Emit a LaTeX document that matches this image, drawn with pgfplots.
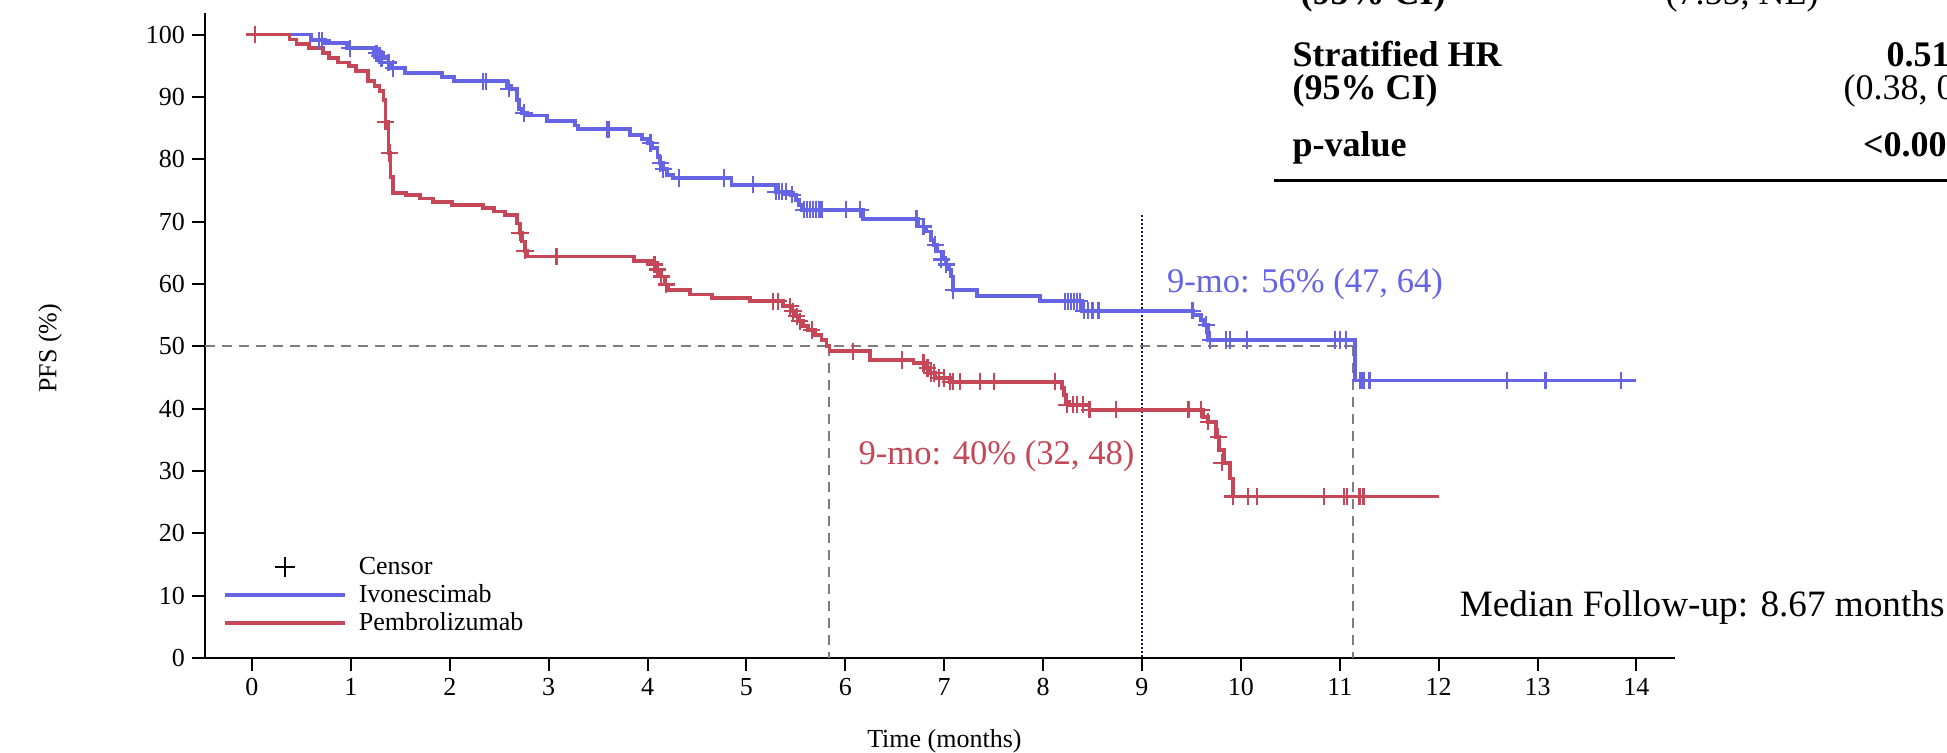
\documentclass[border=0pt]{standalone}
\usepackage{fontspec}
\setmainfont{Liberation Serif}
\usepackage{pgfplots}
\pgfplotsset{compat=1.18}

\definecolor{ivo}{RGB}{100,100,228}
\definecolor{pem}{RGB}{198,72,88}
\definecolor{refgray}{RGB}{125,125,125}
\definecolor{navyref}{RGB}{25,25,105}
\newcommand\smallfont{\fontsize{13}{15}\selectfont}
\newcommand\bigfont{\fontsize{18}{20}\selectfont}
\newcommand\annfont{\fontsize{17.3}{20}\selectfont}
\newcommand\medfont{\fontsize{18.6}{21}\selectfont}

\begin{document}
\begin{tikzpicture}
\clip (-102.5pt,-47.5pt) rectangle (871pt,329pt);
\begin{axis}[
  at={(0pt,0pt)}, anchor=south west,
  width=735pt, height=322.65pt, scale only axis,
  xmin=-0.475, xmax=14.39, ymin=0, ymax=103.5,
  axis x line=bottom, axis y line=left,
  axis line style={-, line width=1.3pt, black},
  xtick={0,...,14}, ytick={0,10,...,100},
  tick align=outside, major tick length=6.5pt,
  tick style={line width=1pt, black},
  tick label style={font=\smallfont},
  /pgf/number format/assume math mode=true,
  label style={font=\smallfont},
  xlabel={Time (months)}, ylabel={PFS (\%)},
  xlabel style={at={(axis description cs:0.503,-0.1286)}, anchor=center},
  ylabel style={at={(axis description cs:-0.1054,0.48)}, anchor=center},
  clip=false,
  legend image code/.code={\draw[mark repeat=2,mark phase=2,#1]
    plot coordinates {(0pt,0pt)(30pt,0pt)(60pt,0pt)};},
  legend style={at={(0.012,0.16)}, anchor=north west, draw=none, fill=none,
    inner sep=0pt, font=\smallfont, row sep=1.5pt, nodes={inner sep=1pt},
    cells={anchor=west}, /tikz/every odd column/.append style={column sep=5pt}},
]
% reference lines
\addplot[refgray, line width=1pt, dash pattern=on 5pt off 3.5pt, forget plot]
  coordinates {(-0.475,50)(11.13,50)};
\addplot[refgray, line width=1pt, dash pattern=on 5pt off 3.5pt, forget plot]
  coordinates {(5.83,50)(5.83,0)};
\addplot[refgray, line width=1pt, dash pattern=on 5pt off 3.5pt, forget plot]
  coordinates {(11.13,50)(11.13,0)};
\addplot[navyref, line width=1pt, densely dotted, forget plot]
  coordinates {(9,71)(9,0)};

% Ivonescimab
\addplot[const plot, ivo, line width=1.9pt, forget plot] coordinates {
  (0,100)(0.60,99.1)(0.74,98.7)(0.96,97.8)(1.23,97.0)(1.33,96.2)(1.38,95.5)
  (1.42,94.6)(1.55,93.8)(1.92,93.2)(2.04,92.5)(2.58,91.7)(2.62,91.3)(2.68,89.5)
  (2.70,88.0)(2.73,87.4)(2.78,87.0)(2.98,86.1)(3.27,85.4)(3.30,84.8)(3.82,83.9)
  (3.94,83.2)(4.00,82.6)(4.05,81.8)(4.10,80.4)(4.13,79.4)(4.16,78.4)(4.20,77.5)
  (4.26,77.0)(4.85,75.9)(5.30,74.8)(5.45,74.3)(5.50,73.5)(5.53,72.7)(5.56,71.9)
  (6.18,70.4)(6.74,69.2)(6.82,68.4)(6.87,67.1)(6.90,66.3)(6.93,65.2)(6.99,63.9)
  (7.02,63.1)(7.05,62.3)(7.07,61.2)(7.09,59.0)(7.33,58.1)(7.97,57.2)(8.39,55.7)
  (9.52,55.0)(9.60,54.2)(9.63,53.4)(9.67,51.0)(11.15,44.5)(14.0,44.5)};
\addplot[only marks, mark=+, mark size=4.3pt, ivo, mark options={line width=1.1pt}, forget plot]
  coordinates {
  (0.68,99.1)(0.71,99.1)(0.99,97.8)(1.26,97.0)(1.29,96.6)(1.31,96.2)(1.38,95.5)
  (1.43,94.6)(2.34,92.5)(2.37,92.5)(2.60,91.3)(2.75,87.4)(3.59,84.8)(3.61,84.8)
  (4.03,82.6)(4.13,79.4)(4.16,78.4)(4.32,77.0)(4.77,77.0)(5.07,75.9)(5.30,74.8)
  (5.33,74.8)(5.36,74.8)(5.40,74.8)(5.46,74.3)(5.58,71.9)(5.61,71.9)(5.64,71.9)
  (5.67,71.9)(5.70,71.9)(5.73,71.9)(5.76,71.9)(6.01,71.9)(6.15,71.9)(6.72,70.4)
  (6.79,69.2)(6.91,66.3)(6.97,63.9)(7.02,63.1)(7.09,59.0)(8.22,57.2)(8.25,57.2)
  (8.28,57.2)(8.31,57.2)(8.34,57.2)(8.37,57.2)(8.41,55.7)(8.45,55.7)(8.50,55.7)
  (8.56,55.7)(9.51,55.7)(9.65,53.4)(9.69,51.0)(9.85,51.0)(9.89,51.0)(10.06,51.0)
  (10.95,51.0)(11.00,51.0)(11.06,51.0)(11.21,44.5)(11.24,44.5)(11.30,44.5)
  (12.69,44.5)(13.08,44.5)(13.84,44.5)};

% Pembrolizumab
\addplot[const plot, pem, line width=1.9pt, forget plot] coordinates {
  (0,100)(0.38,99.2)(0.45,98.5)(0.58,97.8)(0.72,97.0)(0.78,96.2)(0.87,95.5)
  (0.98,94.9)(1.05,94.1)(1.17,92.5)(1.24,91.7)(1.29,90.9)(1.33,89.5)(1.35,86.0)
  (1.38,81.0)(1.40,77.2)(1.43,74.6)(1.56,74.2)(1.70,73.7)(1.83,73.1)(2.02,72.6)
  (2.34,72.2)(2.45,71.6)(2.56,71.1)(2.68,69.7)(2.71,68.2)(2.73,66.8)(2.76,65.3)
  (2.78,64.4)(3.86,63.7)(4.04,63.1)(4.09,62.3)(4.14,61.2)(4.18,59.9)(4.21,59.0)
  (4.43,58.3)(4.65,57.7)(5.04,57.2)(5.37,56.4)(5.46,55.6)(5.49,54.8)(5.52,54.0)
  (5.57,53.2)(5.62,52.6)(5.69,51.8)(5.76,51.0)(5.81,50.0)(5.84,49.2)(6.25,47.8)
  (6.69,47.3)(6.82,46.5)(6.86,45.7)(6.91,44.9)(7.06,44.3)(8.19,43.3)(8.21,42.2)
  (8.23,41.0)(8.26,40.6)(8.47,39.8)(9.62,38.7)(9.67,37.9)(9.75,35.5)(9.78,33.4)
  (9.83,31.3)(9.89,28.8)(9.92,25.9)(12.0,25.9)};
\addplot[only marks, mark=+, mark size=4.3pt, pem, mark options={line width=1.1pt}, forget plot]
  coordinates {
  (0.03,100)(1.35,86.0)(1.39,81.0)(2.71,68.2)(2.76,65.3)(3.08,64.4)(4.07,63.1)
  (4.10,62.3)(4.14,61.2)(4.19,59.9)(5.27,57.2)(5.32,57.2)(5.44,56.4)(5.47,55.6)
  (5.51,54.8)(5.54,54.0)(5.66,52.6)(6.08,49.2)(6.57,47.8)(6.79,47.3)(6.83,46.5)
  (6.87,45.7)(6.90,45.7)(6.95,44.9)(7.00,44.9)(7.06,44.3)(7.09,44.3)(7.16,44.3)
  (7.36,44.3)(7.50,44.3)(8.12,44.3)(8.24,40.6)(8.30,40.6)(8.34,40.6)(8.40,40.6)
  (8.47,39.8)(8.74,39.8)(9.47,39.8)(9.60,39.8)(9.67,37.9)(9.77,35.5)(9.81,31.3)
  (9.92,25.9)(10.07,25.9)(10.16,25.9)(10.84,25.9)(11.04,25.9)(11.07,25.9)
  (11.20,25.9)(11.24,25.9)};

% legend
\addlegendimage{black, only marks, mark=+, mark size=5pt, mark options={line width=1pt}}
\addlegendentry{Censor}
\addlegendimage{ivo, line width=1.9pt}
\addlegendentry{Ivonescimab}
\addlegendimage{pem, line width=1.9pt}
\addlegendentry{Pembrolizumab}

% annotations
\node[anchor=base west, inner sep=0pt, font=\annfont, text=ivo]
  at (axis cs:9.25,58.57) {9-mo: 56\% (47, 64)};
\node[anchor=base west, inner sep=0pt, font=\annfont, text=pem]
  at (axis cs:6.13,30.97) {9-mo: 40\% (32, 48)};
\node[anchor=base west, inner sep=0pt, font=\medfont]
  at (axis cs:12.21,6.58) {Median Follow-up: 8.67 months};

% statistics table (cropped at the edge, as in the source)
\node[anchor=base west, inner sep=0pt, font=\bigfont\bfseries]
  at (axis cs:10.6,104.8) {(95\% CI)};
\node[anchor=base west, inner sep=0pt, font=\bigfont]
  at (axis cs:14.29,104.8) {(7.55, NE)};
\node[anchor=base west, inner sep=0pt, font=\bigfont\bfseries]
  at (axis cs:10.52,94.83) {Stratified HR};
\node[anchor=base east, inner sep=0pt, font=\bigfont\bfseries]
  at (axis cs:17.17,94.83) {0.51};
\node[anchor=base west, inner sep=0pt, font=\bigfont\bfseries]
  at (axis cs:10.52,89.54) {(95\% CI)};
\node[anchor=base west, inner sep=0pt, font=\bigfont]
  at (axis cs:16.09,89.54) {(0.38, 0};
\node[anchor=base west, inner sep=0pt, font=\bigfont\bfseries]
  at (axis cs:10.52,80.39) {p-value};
\node[anchor=base east, inner sep=0pt, font=\bigfont\bfseries]
  at (axis cs:17.14,80.39) {<0.00};
\draw[black, line width=1.5pt] (axis cs:10.33,76.54) -- (axis cs:17.2,76.54);
\end{axis}
\end{tikzpicture}
\end{document}
